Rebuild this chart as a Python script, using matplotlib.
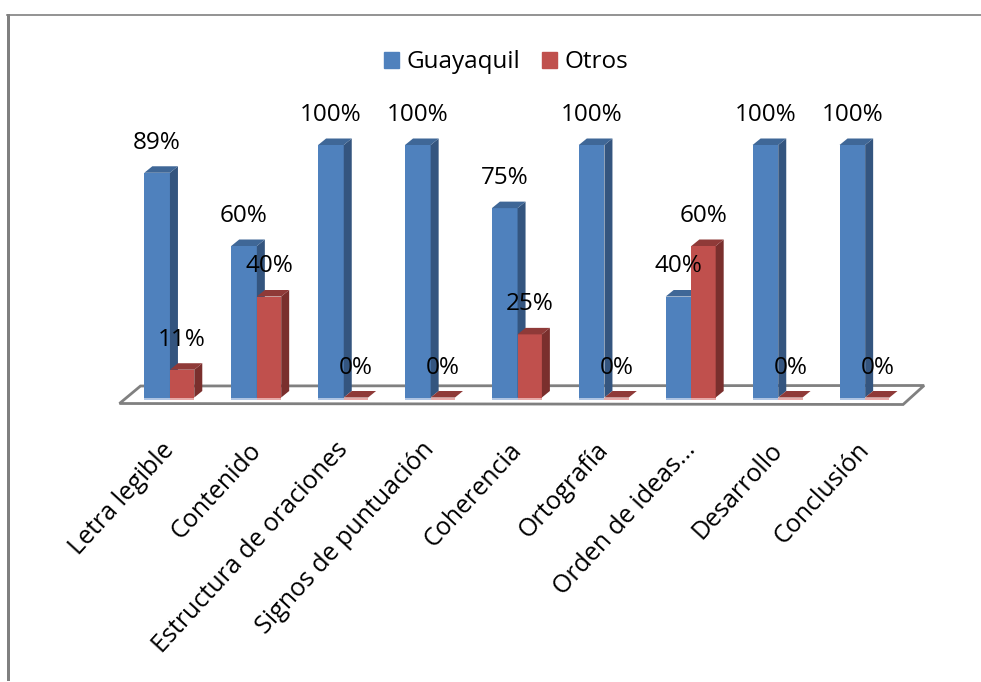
from matplotlib import pyplot as plt
from matplotlib import lines, patches
from matplotlib.patches import Polygon, Rectangle

# Values
categories = ['Letra legible', 'Contenido', 'Estructura de oraciones', 'Signos de puntuación',
              'Coherencia', 'Ortografía', 'Orden de ideas...', 'Desarrollo', 'Conclusión']
guayaquil = [89, 60, 100, 100, 75, 100, 40, 100, 100]
otros = [11, 40, 0, 0, 25, 0, 60, 0, 0]

# Color vars: front, side, top, light strip at the foot of the bar
blueColors = ['#4f81bd', '#34557f', '#3f6797', '#afc4e2']
redColors = ['#c0504d', '#7a2f2d', '#8f3a38', '#e6aaa8']
frameColor = '#808080'

plt.rcParams['font.family'] = ['Open Sans', 'DejaVu Sans']

W, H = 981, 682
figure = plt.figure(figsize=(W / 100, H / 100), dpi=100)
figure.patch.set_facecolor('white')

# Axes box: category slots between x=126.5 and 908.6, 0-100 between y=397.5 and y=145
axLeft, axRight, axBottom, axTop = 126.5, 908.6, 397.5, 145.0
ax = figure.add_axes([axLeft / W, 1 - axBottom / H, (axRight - axLeft) / W, (axBottom - axTop) / H])
ax.set_xlim(-0.5, 8.5)
ax.set_ylim(0, 100)
ax.patch.set_alpha(0)

# Depth of the fake 3D, pixels converted to data units
pxX = 9 / (axRight - axLeft)
pxY = 100 / (axBottom - axTop)
depthX = 8 * pxX
depthY = 6.5 * pxY

# Outer frame of the pasted picture
figure.add_artist(Rectangle((7 / W, 1 / H), 3 / W, 1 - 15 / H, transform=figure.transFigure, color=frameColor, lw=0))
figure.add_artist(lines.Line2D([7 / W, 1], [1 - 14.5 / H, 1 - 14.5 / H], color=frameColor, lw=1.2))

# Floor
floorLeft, floorRight = -0.5 - 7 * pxX, 8.5 - 5.5 * pxX
ax.add_patch(Polygon([(floorLeft, -6 * pxY), (floorLeft + 21 * pxX, 11.5 * pxY),
                      (floorRight + 21 * pxX, 12 * pxY), (floorRight, -7 * pxY)],
                     closed=True, fill=False, edgecolor=frameColor, lw=2, clip_on=False, zorder=1))


def drawBars(values, left, width, colors, zorder):
    positions = [i + left + width / 2 for i in range(len(values))]
    bars = ax.bar(positions, values, width, color=colors[0], zorder=zorder)
    for bar in bars:
        x0, x1 = bar.get_x(), bar.get_x() + bar.get_width()
        top = bar.get_height()
        # Right side of the bar
        ax.add_patch(Polygon([(x1, 0), (x1 + depthX, depthY), (x1 + depthX, top + depthY), (x1, top)],
                             closed=True, color=colors[1], lw=0, clip_on=False, zorder=zorder))
        # Top of the bar
        ax.add_patch(Polygon([(x0, top), (x0 + depthX, top + depthY), (x1 + depthX, top + depthY), (x1, top)],
                             closed=True, color=colors[2], lw=0, clip_on=False, zorder=zorder))
        # Light strip along the foot
        ax.add_patch(Rectangle((x0, -1), x1 - x0, 1, color=colors[3], lw=0, clip_on=False, zorder=zorder + 0.1))
    return positions


blueX = drawBars(guayaquil, -0.295, 0.295, blueColors, 2)
redX = drawBars(otros, 0, 0.28, redColors, 3)

# Labels above the bars
for xs, values in [(blueX, guayaquil), (redX, otros)]:
    for x, value in zip(xs, values):
        ax.annotate('%i%%' % value, (x, value), xytext=(0, 30), textcoords='offset pixels',
                    ha='center', va='center', fontsize=17.5, color='black', zorder=6, annotation_clip=False)

# Axis
for spine in ax.spines.values():
    spine.set_visible(False)
ax.set_yticks([])
ax.set_xticks(range(len(categories)))
ax.set_xticklabels(categories, rotation=47.5, ha='right', va='center', rotation_mode='anchor', fontsize=18)
ax.tick_params(axis='x', length=0, pad=35)

# Legend
handlers = [patches.Patch(color=blueColors[0]), patches.Patch(color=redColors[0])]
figure.legend(handlers, ['Guayaquil', 'Otros'], ncol=2, frameon=False, fontsize=17.5, handlelength=0.62,
              handleheight=0.62, handletextpad=0.3, columnspacing=0.9, loc='center',
              bbox_to_anchor=(506 / W, 1 - 62.5 / H))

plt.savefig('out.png', dpi=100, facecolor='white')
